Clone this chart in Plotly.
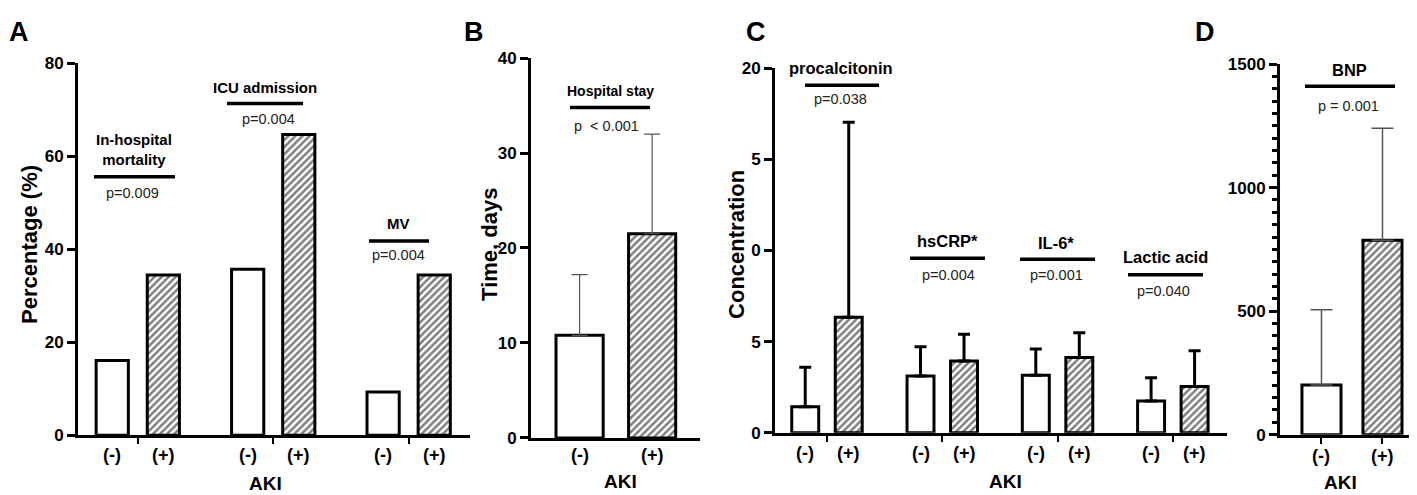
import plotly.graph_objects as go

W, H = 1417, 495

# ---- données ----
# A : pourcentages
A_groupes = ["In-hospital<br>mortality", "ICU admission", "MV"]
A_p = ["p=0.009", "p=0.004", "p=0.004"]
A_neg = [16.1, 35.7, 9.3]
A_pos = [34.5, 64.7, 34.5]
A_ticks = [0, 20, 40, 60, 80]

# B : durée de séjour (moyenne, haut de la barre d'erreur)
B_groupe = "Hospital stay"
B_p = "p  < 0.001"
B_neg = [10.8]
B_neg_haut = [17.2]
B_pos = [21.5]
B_pos_haut = [32.0]
B_ticks = [0, 10, 20, 30, 40]

# C : concentrations
C_groupes = ["procalcitonin", "hsCRP*", "IL-6*", "Lactic acid"]
C_p = ["p=0.038", "p=0.004", "p=0.001", "p=0.040"]
C_neg = [1.42, 3.11, 3.15, 1.74]
C_neg_haut = [3.59, 4.71, 4.59, 3.01]
C_pos = [6.33, 3.94, 4.13, 2.53]
C_pos_haut = [17.04, 5.40, 5.49, 4.50]
C_ticks = [0, 5, 10, 15, 20]
C_ticktext = ["0", "5", "0", "5", "20"]

# D : BNP
D_groupe = "BNP"
D_p = "p = 0.001"
D_neg = [201]
D_neg_haut = [506]
D_pos = [787]
D_pos_haut = [1240]
D_ticks = [0, 500, 1000, 1500]

ETIQ = ["(-)", "(+)"]

ARIAL = "Liberation Sans, Arial"
ECART = 2.65  # espacement entre groupes (en largeur de barre)


def px(x):
    return x / W


def py(y):
    return 1 - y / H


def positions(n):
    centres = [i * ECART for i in range(n)]
    return centres, [c - 0.5 for c in centres], [c + 0.5 for c in centres]


def err(moy, haut):
    return [h - m for m, h in zip(moy, haut)]


def gras(vals):
    return [f"<b>{v}</b>" for v in vals]


def barres(fig, xs_neg, xs_pos, neg, pos, ax, largeur, err_neg=None, err_pos=None,
           err_style=None):
    ligne = dict(color="black", width=3)
    ey_neg = ey_pos = None
    if err_neg is not None:
        ey_neg = dict(type="data", array=err_neg, arrayminus=[0] * len(err_neg),
                      symmetric=False, **err_style)
        ey_pos = dict(type="data", array=err_pos, arrayminus=[0] * len(err_pos),
                      symmetric=False, **err_style)
    fig.add_trace(go.Bar(x=xs_neg, y=neg, width=largeur, xaxis="x" + ax, yaxis="y" + ax,
                         marker=dict(color="white", line=ligne),
                         error_y=ey_neg, showlegend=False))
    fig.add_trace(go.Bar(x=xs_pos, y=pos, width=largeur, xaxis="x" + ax, yaxis="y" + ax,
                         marker=dict(color="white", line=ligne,
                                     pattern=dict(shape="/", fgcolor="black", bgcolor="white",
                                                  size=5, solidity=0.5)),
                         error_y=ey_pos, showlegend=False))


fig = go.Figure()

# A
cA, nA, pA = positions(len(A_groupes))
barres(fig, nA, pA, A_neg, A_pos, "", 0.63)
# B
barres(fig, [0], [1], B_neg, B_pos, "2", 0.65, err(B_neg, B_neg_haut), err(B_pos, B_pos_haut),
       dict(color="#555555", thickness=1.2, width=8))
# C
cC, nC, pC = positions(len(C_groupes))
barres(fig, nC, pC, C_neg, C_pos, "3", 0.62, err(C_neg, C_neg_haut), err(C_pos, C_pos_haut),
       dict(color="black", thickness=3, width=6))
# D
barres(fig, [0], [1], D_neg, D_pos, "4", 0.64, err(D_neg, D_neg_haut), err(D_pos, D_pos_haut),
       dict(color="#555555", thickness=1.5, width=11))

tickfont = dict(family=ARIAL, size=17, color="black")
ybase = dict(showline=True, linewidth=3, linecolor="black", showgrid=False, zeroline=False,
             ticks="outside", ticklen=8, tickwidth=3, tickcolor="black", tickfont=tickfont,
             tickmode="array")
xbase = dict(showline=True, linewidth=3, linecolor="black", showgrid=False, zeroline=False,
             showticklabels=False, tickmode="array", ticks="outside", ticklen=6,
             tickwidth=2, tickcolor="black")

fig.update_layout(
    width=W, height=H, margin=dict(l=0, r=0, t=0, b=0),
    plot_bgcolor="white", paper_bgcolor="white", barmode="overlay",
    xaxis=dict(xbase, domain=[px(70), px(462)], range=[-1.17, 6.5], anchor="y",
               tickvals=cA),
    yaxis=dict(ybase, domain=[py(435), py(48.3)], range=[0, 80], anchor="x",
               tickvals=A_ticks, ticktext=gras(A_ticks)),
    xaxis2=dict(xbase, domain=[px(523), px(692)], range=[-0.67, 1.66], anchor="y2",
                tickvals=[], ticks=""),
    yaxis2=dict(ybase, domain=[py(437.7), py(42.7)], range=[0, 40], anchor="x2",
                tickvals=B_ticks, ticktext=gras(B_ticks)),
    xaxis3=dict(xbase, domain=[px(767), px(1219)], range=[-1.195, 9.195], anchor="y3",
                tickvals=cC),
    yaxis3=dict(ybase, domain=[py(432.3), py(53.3)], range=[0, 20], anchor="x3",
                tickvals=C_ticks, ticktext=gras(C_ticktext)),
    xaxis4=dict(xbase, domain=[px(1272), 1.0], range=[-0.68, 1.697], anchor="y4",
                tickvals=[0, 1]),
    yaxis4=dict(ybase, domain=[py(434.3), py(49)], range=[0, 1500], anchor="x4",
                tickvals=D_ticks, ticktext=gras(D_ticks),
                minor=dict(tickmode="linear", tick0=0, dtick=50, ticks="outside",
                           ticklen=5, tickwidth=2.5, tickcolor="black")),
)

annots = []
shapes = []


def texte(t, x, y, size, weight="normal", color="black", angle=0, xref="paper"):
    annots.append(dict(text=t, x=px(x) if xref == "paper" else x, y=py(y),
                       xref=xref, yref="paper",
                       showarrow=False, xanchor="center", yanchor="middle",
                       textangle=angle,
                       font=dict(family=ARIAL, size=size, color=color, weight=weight)))


def trait(x0, x1, y):
    shapes.append(dict(type="line", xref="paper", yref="paper", x0=px(x0), x1=px(x1),
                       y0=py(y), y1=py(y), line=dict(color="black", width=3.5)))


def signif(nom, p, xn, yn, x0, x1, yl, xp, yp, size=15):
    texte(nom, xn, yn, size, weight="bold")
    trait(x0, x1, yl)
    texte(p, xp, yp, 14.5, color="#222222")


def etiquettes_x(neg_x, pos_x, ax, y):
    for a, b in zip(neg_x, pos_x):
        texte(ETIQ[0], a, y, 18, weight="bold", xref=ax)
        texte(ETIQ[1], b, y, 18, weight="bold", xref=ax)


# lettres des panneaux
for lettre, x in zip("ABCD", [11, 466, 748, 1197]):
    texte(lettre, x, 16, 27, weight="bold")

# titres d'axes
texte("Percentage (%)", 22, 237, 22, weight="bold", angle=-90)
texte("Time, days", 482, 237, 22, weight="bold", angle=-90)
texte("Concentration", 729, 237, 22, weight="bold", angle=-90)
for x, y in [(257, 485), (612, 483), (997, 483), (1332, 484)]:
    texte("AKI", x, y, 19, weight="bold")

# étiquettes (-)/(+)
etiquettes_x(nA, pA, "x", 455)
etiquettes_x([0], [1], "x2", 455)
etiquettes_x(nC, pC, "x3", 453)
etiquettes_x([0], [1], "x4", 457)

# A
signif(A_groupes[0], A_p[0], 126, 138, 86, 167, 166, 124, 183)
signif(A_groupes[1], A_p[1], 257, 73, 219, 295, 90, 260, 106)
signif(A_groupes[2], A_p[2], 390, 215, 361, 421, 233, 390, 248)
# B
signif(B_groupe, B_p, 602, 77, 562, 642, 94, 598, 113, size=14)
# C
signif(C_groupes[0], C_p[0], 833, 53, 797, 871, 71, 832, 85, size=16.5)
signif(C_groupes[1], C_p[1], 939, 233, 902, 977, 251, 940, 268, size=16.5)
signif(C_groupes[2], C_p[2], 1048, 235, 1012, 1087, 252, 1048, 268, size=16.5)
signif(C_groupes[3], C_p[3], 1157, 250, 1120, 1195, 268, 1155, 285, size=16.5)
# D
signif(D_groupe, D_p, 1341, 55, 1297, 1387, 72, 1340, 93, size=16.5)

fig.update_layout(annotations=annots, shapes=shapes)
fig.write_html("out.html")
